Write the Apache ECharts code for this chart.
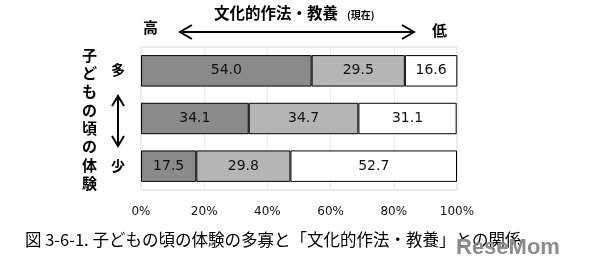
<!DOCTYPE html>
<html><head><meta charset="utf-8">
<script src="https://cdn.jsdelivr.net/npm/echarts@6/dist/echarts.min.js"></script>
<style>html,body{margin:0;padding:0;background:#fff}#c{width:589px;height:274px}</style>
</head><body><div id="c"></div>
<script>
const categories = ['多', '中', '少'];
const highValues = [54.0, 34.1, 17.5];
const midValues = [29.5, 34.7, 29.8];
const lowValues = [16.6, 31.1, 52.7];
const xTicks = [0, 20, 40, 60, 80, 100];

const F = '"Noto Sans CJK JP", sans-serif';
const chart = echarts.init(document.getElementById('c'));
const lbl = {show: true, position: 'inside', color: '#111', fontSize: 14, fontFamily: '"DejaVu Sans", sans-serif', fontWeight: 'normal',
  formatter: p => p.value.toFixed(1)};
function mk(name, data, color) {
  return {name, type: 'bar', stack: 'a', data, barWidth: '66%', itemStyle: {color, borderColor: '#000', borderWidth: 1},
    label: lbl, silent: true};
}
chart.setOption({
  animation: false,
  grid: {left: 141, right: 132, top: 47, bottom: 84, show: true, borderColor: '#d8d8d8', borderWidth: 1},
  xAxis: {type: 'value', min: 0, max: 100, interval: 20,
    axisLine: {show: false}, axisTick: {show: false},
    splitLine: {lineStyle: {color: '#ececec'}},
    axisLabel: {formatter: v => xTicks.includes(v) ? v + '%' : '', color: '#111', fontSize: 12, fontFamily: '"DejaVu Sans", sans-serif', margin: 16}},
  yAxis: {type: 'category', data: categories, inverse: true,
    axisLine: {show: false}, axisLabel: {show: false},
    axisTick: {inside: true, length: 4, lineStyle: {color: '#cfcfcf'}}},
  series: [mk('高', highValues, '#8a8a8a'), mk('中', midValues, '#b5b5b5'), mk('低', lowValues, '#ffffff')],
  graphic: [
    {type: 'text', left: 214, top: 5, style: {text: '文化的作法・教養', font: 'bold 15.5px ' + F, fill: '#000'}},
    {type: 'text', left: 347, top: 10, style: {text: '(現在)', font: 'bold 10px ' + F, fill: '#000'}},
    {type: 'text', left: 143, top: 20, style: {text: '高', font: 'bold 15px ' + F, fill: '#000'}},
    {type: 'text', left: 432, top: 23, style: {text: '低', font: 'bold 15px ' + F, fill: '#000'}},
    {type: 'line', shape: {x1: 180, y1: 32, x2: 414, y2: 32}, style: {stroke: '#000', lineWidth: 2}},
    {type: 'polyline', shape: {points: [[192, 25], [180, 32], [192, 39]]}, style: {stroke: '#000', lineWidth: 2, fill: null}},
    {type: 'polyline', shape: {points: [[402, 25], [414, 32], [402, 39]]}, style: {stroke: '#000', lineWidth: 2, fill: null}},
    {type: 'text', left: 111, top: 63, style: {text: '多', font: 'bold 14px ' + F, fill: '#000'}},
    {type: 'text', left: 111, top: 159, style: {text: '少', font: 'bold 14px ' + F, fill: '#000'}},
    {type: 'line', shape: {x1: 118, y1: 96, x2: 118, y2: 146}, style: {stroke: '#000', lineWidth: 2}},
    {type: 'polyline', shape: {points: [[112, 106], [118, 96], [124, 106]]}, style: {stroke: '#000', lineWidth: 2, fill: null}},
    {type: 'polyline', shape: {points: [[112, 136], [118, 146], [124, 136]]}, style: {stroke: '#000', lineWidth: 2, fill: null}},
    {type: 'text', left: 82, top: 46, style: {text: '子\nど\nも\nの\n頃\nの\n体\n験', font: 'bold 15px ' + F, lineHeight: 18.3, fill: '#000'}},
    {type: 'text', left: 25, top: 231, style: {text: '図 3-6-1. 子どもの頃の体験の多寡と「文化的作法・教養」との関係', font: '16.5px ' + F, fill: '#000'}},
    {type: 'text', left: 456, top: 237, style: {text: 'ReseMom', font: 'bold 22px "Liberation Sans Narrow", "Liberation Sans", sans-serif', fill: '#8c8c8c'}}
  ]
});
</script></body></html>
